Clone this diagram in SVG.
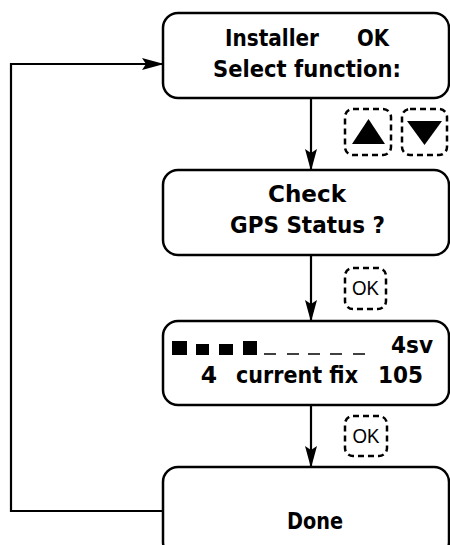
<svg xmlns="http://www.w3.org/2000/svg" width="450" height="545" viewBox="0 0 450 545">
<style>
.box{fill:#fff;stroke:#000;stroke-width:2.5}
.t{font-family:"DejaVu Sans","Liberation Sans",sans-serif;font-weight:bold;font-size:23.5px;text-anchor:middle;fill:#000}
.k{font-family:"Liberation Sans",Arial,sans-serif;font-size:21px;text-anchor:middle;fill:#000}
.btn{fill:none;stroke:#000;stroke-width:2.5;stroke-dasharray:6 4}
.c{fill:none;stroke:#000;stroke-width:2.2}
</style>
<defs>
<marker id="ah" markerWidth="22" markerHeight="12" refX="21" refY="6" orient="auto" markerUnits="userSpaceOnUse">
<path d="M0,0 L22,6 L0,12 L4,6 Z" fill="#000"/>
</marker>
</defs>
<g id="connectors">
<line class="c" x1="311" y1="98" x2="311" y2="170" marker-end="url(#ah)"/>
<line class="c" x1="311" y1="255" x2="311" y2="321" marker-end="url(#ah)"/>
<line class="c" x1="311" y1="405" x2="311" y2="467" marker-end="url(#ah)"/>
<polyline class="c" points="163,511 11,511 11,64 163,64" marker-end="url(#ah)"/>
</g>
<g id="node1">
<rect class="box" x="163" y="13" width="286" height="85" rx="15"/>
<text class="t" x="272" y="46" textLength="94" lengthAdjust="spacingAndGlyphs">Installer</text>
<text class="t" x="373" y="46" textLength="32" lengthAdjust="spacingAndGlyphs">OK</text>
<text class="t" x="307" y="77" textLength="188" lengthAdjust="spacingAndGlyphs">Select function:</text>
</g>
<g id="node2">
<rect class="box" x="163" y="170" width="286" height="85" rx="15"/>
<text class="t" x="307" y="202" textLength="78" lengthAdjust="spacingAndGlyphs">Check</text>
<text class="t" x="307.5" y="233" textLength="155" lengthAdjust="spacingAndGlyphs">GPS Status ?</text>
</g>
<g id="node3">
<rect class="box" x="163" y="321" width="286" height="84" rx="15"/>
<rect x="172" y="341" width="15" height="14"/>
<rect x="196" y="344" width="13" height="11"/>
<rect x="219" y="344" width="14" height="11"/>
<rect x="243" y="341" width="14" height="14"/>
<g stroke="#000" stroke-width="1.5">
<line x1="264" y1="354" x2="276" y2="354"/>
<line x1="287" y1="354" x2="299" y2="354"/>
<line x1="308" y1="354" x2="320" y2="354"/>
<line x1="330" y1="354" x2="342" y2="354"/>
<line x1="353" y1="354" x2="365" y2="354"/>
</g>
<text class="t" x="412" y="353" textLength="42" lengthAdjust="spacingAndGlyphs">4sv</text>
<text class="t" x="209" y="383">4</text>
<text class="t" x="297" y="383" textLength="122" lengthAdjust="spacingAndGlyphs">current fix</text>
<text class="t" x="400.5" y="383" textLength="45" lengthAdjust="spacingAndGlyphs">105</text>
</g>
<g id="node4">
<rect class="box" x="163" y="467" width="286" height="90" rx="15"/>
<text class="t" x="315" y="529" textLength="56" lengthAdjust="spacingAndGlyphs">Done</text>
</g>
<g id="btn-up">
<rect class="btn" x="345" y="109" width="46" height="46" rx="8"/>
<polygon points="352,144 385,144 368.5,119"/>
</g>
<g id="btn-down">
<rect class="btn" x="402" y="109" width="45" height="46" rx="8"/>
<polygon points="407,121 442,121 424.5,145"/>
</g>
<g id="btn-ok1">
<rect class="btn" x="345" y="268" width="41" height="41" rx="8"/>
<text class="k" x="365.5" y="295" textLength="27" lengthAdjust="spacingAndGlyphs">OK</text>
</g>
<g id="btn-ok2">
<rect class="btn" x="345" y="416" width="42" height="40" rx="8"/>
<text class="k" x="366" y="443" textLength="27" lengthAdjust="spacingAndGlyphs">OK</text>
</g>
</svg>
